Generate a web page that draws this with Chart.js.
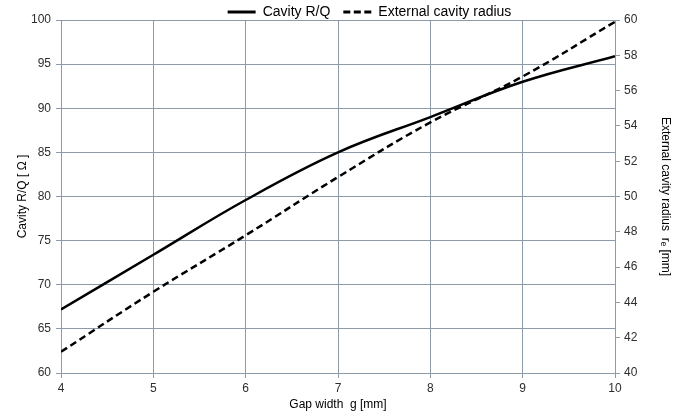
<!DOCTYPE html>
<html>
<head>
<meta charset="utf-8">
<script src="https://cdn.jsdelivr.net/npm/chart.js@4/dist/chart.umd.min.js"></script>
<style>
  html, body { margin: 0; padding: 0; background: #ffffff; }
  #wrap { width: 691px; height: 416px; position: relative; }
</style>
</head>
<body>
<div id="wrap"><canvas id="c" width="691" height="416"></canvas></div>
<script>
// Data
const gapWidth = [4, 5, 6, 7, 8, 9, 10];                          // g [mm]
const cavityRQ = [67.2, 73.4, 79.6, 85.0, 89.0, 93.0, 95.9];       // Cavity R/Q [Ω]
const externalRadius = [41.2, 44.6, 47.8, 51.1, 54.2, 56.8, 59.9]; // r_e [mm]

const seriesNames = ['Cavity R/Q', 'External cavity radius'];
const xTitle = 'Gap width  g [mm]';
const yLeftTitle = 'Cavity R/Q [ \u03A9 ]';
const yRightTitle = 'External cavity radius  r\u2091 [mm]';

const FONT = '"Liberation Sans", Arial, sans-serif';
const GRID = '#8c9ba7';

const layoutPlugin = {
  id: 'layoutTweaks',
  beforeLayout(chart) {
    const lg = chart.legend;
    if (lg && !lg.__patched) {
      const orig = lg.fit;
      lg.fit = function () { orig.call(this); this.height = 20; };
      lg.__patched = true;
    }
  },
  afterLayout(chart) {
    const lg = chart.legend;
    if (lg) {
      lg.top = -8; lg.bottom = 20; lg.height = 28;
      lg.left += 24; lg.right += 24;
    }
  }
};

new Chart(document.getElementById('c'), {
  type: 'line',
  data: {
    datasets: [
      {
        label: seriesNames[0],
        data: gapWidth.map((g, i) => ({ x: g, y: cavityRQ[i] })),
        yAxisID: 'y',
        borderColor: '#000000',
        backgroundColor: '#000000',
        borderWidth: 2.5,
        pointRadius: 0,
        tension: 0.4,
        fill: false
      },
      {
        label: seriesNames[1],
        data: gapWidth.map((g, i) => ({ x: g, y: externalRadius[i] })),
        yAxisID: 'y2',
        borderColor: '#000000',
        backgroundColor: '#000000',
        borderWidth: 2.5,
        borderDash: [7, 4],
        pointRadius: 0,
        tension: 0.4,
        fill: false
      }
    ]
  },
  options: {
    responsive: false,
    animation: false,
    devicePixelRatio: 1,
    layout: { padding: 0 },
    plugins: {
      legend: {
        display: true,
        position: 'top',
        align: 'center',
        labels: {
          usePointStyle: true,
          pointStyle: 'line',
          pointStyleWidth: 28,
          padding: 13,
          color: '#000000',
          font: { family: FONT, size: 14 },
          generateLabels(chart) {
            const items = Chart.defaults.plugins.legend.labels.generateLabels(chart);
            return items.map((it) => {
              const ds = chart.data.datasets[it.datasetIndex];
              it.lineDash = ds.borderDash ? [7, 3.5] : [];
              it.lineWidth = 3;
              it.strokeStyle = '#000000';
              it.fillStyle = '#000000';
              return it;
            });
          }
        }
      },
      tooltip: { enabled: false }
    },
    scales: {
      x: {
        type: 'linear',
        min: 4, max: 10,
        ticks: { stepSize: 1, color: '#2e2e2e', padding: 3, font: { family: FONT, size: 12 } },
        grid: { color: GRID, lineWidth: 1, tickLength: 5, tickColor: GRID },
        border: { color: GRID },
        title: { display: true, text: xTitle, color: '#000000', padding: { top: 0, bottom: 4 }, font: { family: FONT, size: 12 } },
        afterFit(s) { s.height = 43; }
      },
      y: {
        type: 'linear',
        position: 'left',
        min: 60, max: 100,
        ticks: { stepSize: 5, color: '#2e2e2e', padding: 5, font: { family: FONT, size: 12 } },
        grid: { color: GRID, lineWidth: 1, tickLength: 5, tickColor: GRID },
        border: { color: GRID },
        title: { display: true, text: yLeftTitle, color: '#000000', padding: { top: 15, bottom: 0 }, font: { family: FONT, size: 12 } },
        afterFit(s) { s.width = 61; }
      },
      y2: {
        type: 'linear',
        position: 'right',
        min: 40, max: 60,
        ticks: { stepSize: 2, color: '#2e2e2e', padding: 4, font: { family: FONT, size: 12 } },
        grid: { drawOnChartArea: false, color: GRID, tickLength: 5, tickColor: GRID },
        border: { color: GRID },
        title: { display: true, text: yRightTitle, color: '#000000', padding: { top: 18, bottom: 0 }, font: { family: FONT, size: 12 } },
        afterFit(s) { s.width = 76; }
      }
    }
  },
  plugins: [layoutPlugin]
});
</script>
</body>
</html>
